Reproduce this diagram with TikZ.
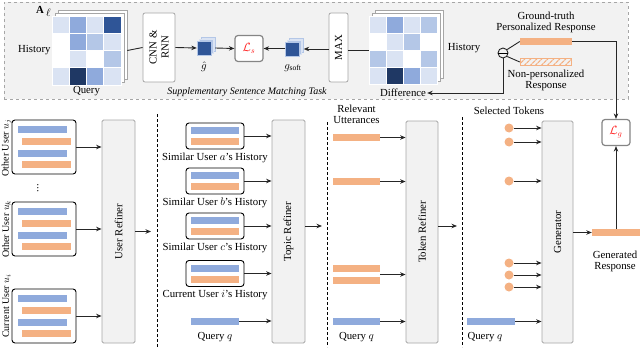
\documentclass[tikz,border=0pt]{standalone}
\usepackage{fontspec}
\setmainfont{Liberation Serif}
\usetikzlibrary{arrows.meta,patterns.meta,calc}
\definecolor{bluebar}{HTML}{8FAADC}
\definecolor{orangebar}{HTML}{F4B183}
\definecolor{ca}{HTML}{DAE3F3}
\definecolor{cb}{HTML}{B4C7E7}
\definecolor{cc}{HTML}{8FAADC}
\definecolor{cd}{HTML}{2F5597}
\definecolor{ce}{HTML}{1F3864}
\definecolor{panel}{HTML}{F2F2F2}
\definecolor{edgegray}{HTML}{A6A6A6}
\definecolor{lossred}{HTML}{FF2020}
\begin{document}
\begin{tikzpicture}[x=1pt,y=-1pt,font=\fontsize{10.8}{12}\selectfont,
  arr/.style={-{Stealth[length=5.5pt,width=4.5pt]},line width=0.9pt,draw=black!85},
  ln/.style={line width=0.9pt,draw=black!85},
  bbar/.style={fill=bluebar,draw=none,minimum height=7pt,inner sep=0pt},
  obar/.style={fill=orangebar,draw=none,minimum height=7pt,inner sep=0pt},
  userbox/.style={draw=black,line width=0.9pt,rounded corners=3pt,fill=white,inner sep=0pt},
  refiner/.style={draw=edgegray,line width=0.8pt,fill=panel,rounded corners=1.5pt,inner sep=0pt},
  graybox/.style={draw=edgegray,line width=0.8pt,fill=white,rounded corners=2pt,inner sep=0pt},
  lossbox/.style={draw=edgegray!80!black,line width=1.2pt,fill=white,rounded corners=3pt,inner sep=0pt,minimum width=28pt,minimum height=26pt,text=lossred,font=\fontsize{12}{13}\selectfont},
  layer/.style={draw=edgegray,line width=0.5pt,fill=white,inner sep=0pt,minimum size=69pt},
  sep/.style={draw=black,line width=0.8pt,dash pattern=on 3pt off 2pt},
  dot/.style={circle,fill=orangebar,inner sep=0pt,minimum size=9pt},
  userlab/.style={rotate=90,inner sep=0pt,font=\fontsize{10}{11}\selectfont},
  lbl/.style={inner sep=1pt,align=center}]
\useasboundingbox (0,0) rectangle (640,348);

% ---------- top panel ----------
\node[draw=edgegray,dashed,line width=0.8pt,fill=panel,minimum width=624pt,minimum height=97pt,inner sep=0pt] (panelbox) at (316,50.5) {};

% matrix 1
\node[layer] (m1b2) at (92.5,44.5) {};
\node[layer] (m1b1) at (89.5,47.5) {};
\node[layer] (m1) at (86.5,50.5) {};
\foreach \c [count=\i from 0] in {ca,cc,ca,cd, white,cc,cb,ca, white,ca,white,cb, ca,ce,cc,ca}{
  \pgfmathtruncatemacro\col{mod(\i,4)}
  \pgfmathtruncatemacro\row{int(\i/4)}
  \filldraw[fill=\c,draw=white,line width=0.6pt] (52+\col*17.25,16+\row*17.25) rectangle ++(17.25,17.25);
}
\node[lbl,anchor=east] (hist1) at (m1.west) {History};
\node[lbl,anchor=north] (query1) at (m1.south) {Query};
\node[inner sep=0pt] (Alab) at (40,10) {\textbf{A}};
\node[inner sep=0pt] (ell) at (48.5,13) {$\ell$};

% CNN & RNN
\node[graybox,minimum width=32pt,minimum height=69pt] (cnn) at (159,47.5) {};
\node[rotate=90,align=center,inner sep=0pt] (cnntext) at (cnn.center) {CNN \&\\RNN};
\draw[ln] (m1.east -| m1b2.east) -- (cnn.west);

% g hat
\node[fill=ca,draw=cb,line width=0.4pt,minimum size=14pt,inner sep=0pt] (ghb2) at (208,44) {};
\node[fill=cb,draw=ca,line width=0.4pt,minimum size=14pt,inner sep=0pt] (ghb1) at (206,46) {};
\node[fill=cd,draw=cb,line width=0.4pt,minimum size=14pt,inner sep=0pt] (gh) at (204,48) {};
\node[lbl] (ghlab) at (204,67) {$\hat{g}$};
\draw[arr] (cnn.east) -- (gh.west);

% L_s
\node[lossbox] (ls) at (249,48.5) {$\mathcal{L}_s$};
\draw[arr] (gh.east -| ghb2.east) -- (ls.west);

% g soft
\node[fill=ca,draw=cb,line width=0.4pt,minimum size=14pt,inner sep=0pt] (gsb2) at (296.5,45) {};
\node[fill=cb,draw=ca,line width=0.4pt,minimum size=14pt,inner sep=0pt] (gsb1) at (294.5,47) {};
\node[fill=cd,draw=cb,line width=0.4pt,minimum size=14pt,inner sep=0pt] (gs) at (292.5,49) {};
\node[lbl] (gslab) at (293,68) {$g_{\mathrm{soft}}$};
\draw[arr] (ls.east -| gs.west) -- (ls.east);

% MAX
\node[graybox,minimum width=19pt,minimum height=69pt] (max) at (338.5,47.5) {};
\node[rotate=90,inner sep=0pt] (maxtext) at (max.center) {MAX};
\draw[arr] (max.west |- gs.east) -- ([xshift=4pt]gs.east);

% matrix 2
\node[layer,minimum size=68pt] (m2b2) at (409,44) {};
\node[layer,minimum size=68pt] (m2b1) at (406,47) {};
\node[layer,minimum size=68pt] (m2) at (403,50) {};
\foreach \c [count=\i from 0] in {ca,cc,ca,cb, white,ca,cb,white, cb,ca,white,cb, ca,ce,cc,ca}{
  \pgfmathtruncatemacro\col{mod(\i,4)}
  \pgfmathtruncatemacro\row{int(\i/4)}
  \filldraw[fill=\c,draw=white,line width=0.6pt] (369+\col*17,16+\row*17) rectangle ++(17,17);
}
\draw[ln] (m2.west) -- (max.east |- m2.west);
\node[lbl] (diff) at (403,93) {Difference};
\node[lbl] (hist2) at (464,48) {History};

% minus & responses
\node[circle,draw=black!85,line width=0.9pt,minimum size=10pt,inner sep=0pt] (minus) at (503,53) {};
\draw[line width=0.9pt] (minus.west) -- (minus.east);
\node[obar,minimum width=52pt] (gt) at (546,41.5) {};
\node[draw=orangebar,line width=0.6pt,minimum width=51pt,minimum height=7pt,inner sep=0pt,
      pattern={Lines[angle=45,distance=4pt,line width=1.4pt]},pattern color=orangebar] (np) at (546,62) {};
\node[lbl] (gtlab) at (546,22) {Ground-truth\\[-1pt]Personalized Response};
\node[lbl] (nplab) at (546,80) {Non-personalized\\[-1pt]Response};
\draw[ln] (minus.40) -- (gt.west);
\draw[ln] (minus.-40) -- (np.west);
\draw[arr] (minus.south) |- (diff.east);

\node[lbl,font=\fontsize{10}{11.5}\selectfont\itshape] (task) at (247,92) {Supplementary Sentence Matching Task};

% ---------- bottom ----------
\coordinate (s1t) at (157,114); \coordinate (s1b) at (157,347);
\coordinate (s2t) at (327,122); \coordinate (s2b) at (327,347);
\coordinate (s3t) at (462,117); \coordinate (s3b) at (462,347);
\draw[sep] (s1t) -- (s1b);
\draw[sep] (s2t) -- (s2b);
\draw[sep] (s3t) -- (s3b);

% column 1 : users
\node[refiner,minimum width=33pt,minimum height=223pt] (ur) at (118.5,231.5) {};
\node[rotate=90,inner sep=0pt] (urtext) at (ur.center) {User Refiner};
\foreach \n/\cy/\ly/\lab in {uj/147/148/{Other User $u_j$},uk/229/229/{Other User $u_k$},ui/316/306/{Current User $u_i$}}{
  \node[userbox,minimum width=64pt,minimum height=54pt] (\n) at (44,\cy) {};
  \node[bbar,minimum width=49pt] (\n b1) at (42.5,\cy-17.5) {};
  \node[obar,minimum width=49pt] (\n o1) at (46.5,\cy-6) {};
  \node[bbar,minimum width=49pt] (\n b2) at (42.5,\cy+6) {};
  \node[obar,minimum width=49pt] (\n o2) at (46.5,\cy+17.5) {};
  \node[userlab] (\n lab) at (6.5,\ly) {\lab};
  \draw[arr] (\n.east) -- (\n.east -| ur.west);
}
\node[rotate=90,inner sep=0pt] (vd) at (38,188) {...};
\coordinate (urout) at (151,231.5);
\draw[arr] (ur.east |- urout) -- (urout);

% column 2 : topic refiner
\node[refiner,minimum width=33pt,minimum height=223pt] (tr) at (288.5,231.5) {};
\node[rotate=90,inner sep=0pt] (trtext) at (tr.center) {Topic Refiner};
\foreach \n/\cy/\lab in {sa/136/{Similar User $a$'s History},sb/181/{Similar User $b$'s History},sc/226/{Similar User $c$'s History},si/273.5/{Current User $i$'s History}}{
  \node[userbox,minimum width=58pt,minimum height=26pt] (\n) at (215,\cy) {};
  \node[bbar,minimum width=48pt] (\n b) at (215,\cy-5.5) {};
  \node[obar,minimum width=48pt] (\n o) at (215,\cy+5.5) {};
  \node[lbl] (\n lab) at (215,\cy+21.5) {\lab};
  \draw[arr] (\n.east) -- (\n.east -| tr.west);
}
\node[bbar,minimum width=48pt] (q2) at (215,321) {};
\node[lbl] (q2lab) at (215,337) {Query $q$};
\draw[arr] (q2.east) -- (q2.east -| tr.west);
\coordinate (trout) at (322,226);
\draw[arr] (tr.east |- trout) -- (trout);

% column 3 : token refiner
\node[lbl] (rel) at (356.5,114) {Relevant\\[-1pt]Utterances};
\node[refiner,minimum width=32pt,minimum height=222pt] (tk) at (422,232) {};
\node[rotate=90,inner sep=0pt] (tktext) at (tk.center) {Token Refiner};
\node[obar,minimum width=47pt] (r1) at (356.5,137.5) {};
\node[obar,minimum width=47pt] (r2) at (356.5,181.5) {};
\node[obar,minimum width=47pt] (r3) at (356.5,268.5) {};
\node[obar,minimum width=47pt] (r4) at (356.5,280.5) {};
\node[bbar,minimum width=47pt] (q3) at (356.5,321.5) {};
\node[lbl] (q3lab) at (356.5,337) {Query $q$};
\draw[arr] (r1.east) -- (r1.east -| tk.west);
\draw[arr] (r2.east) -- (r2.east -| tk.west);
\coordinate (r34) at ($(r3.east)!0.5!(r4.east)$);
\draw[arr] (r34) -- (r34 -| tk.west);
\draw[arr] (q3.east) -- (q3.east -| tk.west);
\coordinate (tkout) at (457,226);
\draw[arr] (tk.east |- tkout) -- (tkout);

% column 4 : generator
\node[lbl] (sel) at (509,111) {Selected Tokens};
\node[refiner,minimum width=31pt,minimum height=222pt] (gen) at (557.5,232) {};
\node[rotate=90,inner sep=0pt] (gentext) at (gen.center) {Generator};
\foreach \n/\cy in {d1/128,d2/142,d3/181,d4/263,d5/275,d6/287}{
  \node[dot] (\n) at (509,\cy) {};
  \draw[arr] (\n.east) -- (\n.east -| gen.west);
}
\node[bbar,minimum width=48pt] (q4) at (491,321.5) {};
\node[lbl] (q4lab) at (485,337) {Query $q$};
\draw[arr] (q4.east) -- (q4.east -| gen.west);

% output
\node[obar,minimum width=48pt] (gr) at (616,232.5) {};
\node[lbl] (grlab) at (615,261.5) {Generated\\[-1pt]Response};
\draw[arr] (gen.east |- gr.west) -- (gr.west);
\node[lossbox] (lg) at (616,132.5) {$\mathcal{L}_g$};
\draw[arr] (gr.north) -- (lg.south);
\draw[arr] (gt.east) -| (lg.north);
\end{tikzpicture}
\end{document}
